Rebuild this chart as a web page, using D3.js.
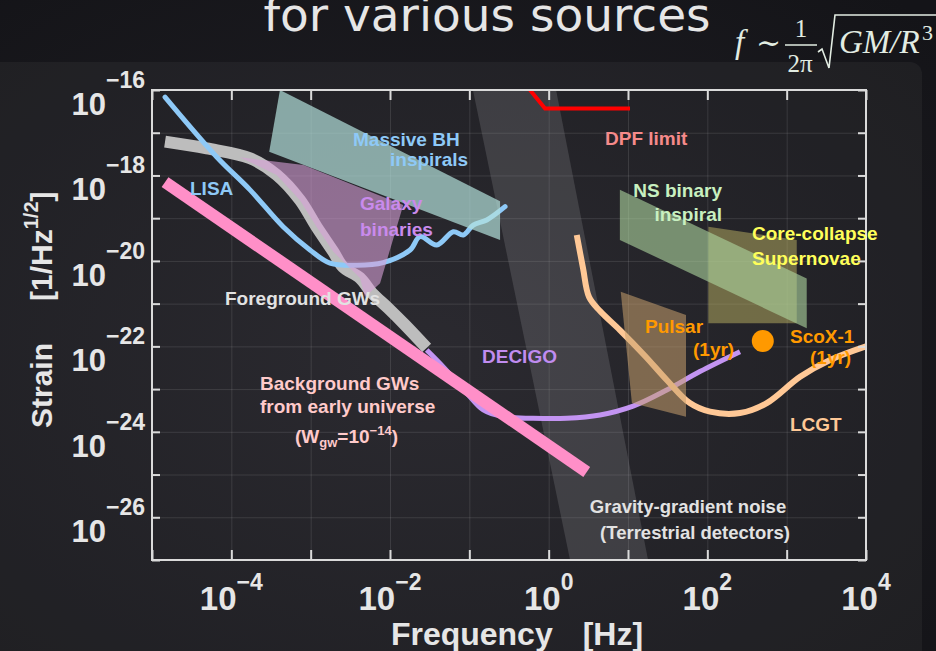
<!DOCTYPE html>
<html><head><meta charset="utf-8">
<script src="https://cdn.jsdelivr.net/npm/d3@7"></script>
<style>
html,body{margin:0;padding:0;background:#16161b;}
svg{display:block;font-family:"Liberation Sans",Arial,sans-serif;font-weight:bold;}
</style></head><body>
<svg id="chart" width="936" height="651"></svg>
<script>
// ---------- data (frequency [Hz], strain [1/Hz^1/2]) ----------
const xTickExponents = [-4, -2, 0, 2, 4];
const yTickExponents = [-16, -18, -20, -22, -24, -26];
const xDecades = [1e-5,1e-4,1e-3,1e-2,1e-1,1,10,100,1e3,1e4];
const yDecades = [1e-27,1e-26,1e-25,1e-24,1e-23,1e-22,1e-21,1e-20,1e-19,1e-18,1e-17,1e-16];

const lisa = [
  [1.46e-5,6.8e-17],[6.5e-5,2.75e-18],[1.72e-4,4.6e-19],[4.5e-4,6.3e-20],
  [9.8e-4,1.8e-20],[1.75e-3,8.9e-21],[3.8e-3,7.9e-21],[8.2e-3,9.1e-21],
  [1.79e-2,1.8e-20],[2.39e-2,3.7e-20],[3.88e-2,2.36e-20],[6.28e-2,4.83e-20],
  [8.4e-2,4.05e-20],[0.112,6.9e-20],[0.166,9.1e-20],[0.282,1.86e-19]
];
const foreground = [
  [1.46e-5,6.2e-18],[4.9e-5,4.3e-18],[1.72e-4,2.52e-18],[3.73e-4,1.03e-18],
  [7.3e-4,2.67e-19],[1.19e-3,6.2e-20],[1.93e-3,1.64e-20],[2.56e-3,7.2e-21],
  [4.19e-3,3.98e-21],[5.93e-3,1.77e-21],[9.44e-3,7.9e-22],[1.55e-2,3.16e-22],
  [2.9e-2,9.2e-23]
];
const background = [[1.46e-5,7.0e-19],[3.02,1.15e-25]];
const decigo = [
  [2.9e-2,8.2e-23],[4.66e-2,3.35e-23],[9.3e-2,8.0e-24],[0.15,3.24e-24],
  [0.266,2.26e-24],[0.636,2.07e-24],[1.69,2.07e-24],[4.44,2.48e-24],
  [11.6,4.0e-24],[30.8,9.5e-24],[80.5,2.57e-23],[258,7.5e-23]
];
const lcgt = [
  [2.26,4.05e-20],[2.71,6.8e-21],[3.23,1.43e-21],[4.44,6.7e-22],[7.9,2.4e-22],
  [16.4,5.96e-23],[30.8,1.63e-23],[60.2,4.7e-24],[108,2.96e-24],[258,2.75e-24],
  [561,4.7e-24],[1476,1.95e-23],[3524,4.8e-23],[1e4,1e-22]
];
const dpfLimit = [[0.582,1e-16],[0.9,3.7e-17],[10.6,3.7e-17]];
const gravityGradient = [[0.111,1e-16],[1.24,1e-16],[17.9,1e-27],[1.86,1e-27]];
const massiveBH = [[4.1e-4,1e-16],[0.244,2.5e-19],[0.244,3.1e-20],[3.0e-4,3.6e-18]];
const galaxyBinaries = [
  [1.28e-4,2.66e-18],[8.1e-4,1.76e-18],[1.47e-2,2.04e-19],[7.5e-3,3.0e-21],
  [4.84e-3,1.43e-21],[4.19e-3,3.98e-21],[1.93e-3,1.64e-20],[1.19e-3,6.2e-20],
  [7.3e-4,2.67e-19],[3.73e-4,1.03e-18]
];
const supernovae = [[103,6.3e-20],[1340,3.1e-20],[1340,3.47e-22],[103,3.47e-22]];
const nsBinary = [[7.9,4.6e-19],[1790,3.9e-21],[1790,2.65e-22],[7.9,3.1e-20]];
const pulsar = [[8.1,1.9e-21],[53.8,5.4e-22],[53.8,2.25e-24],[11.2,4.7e-24]];
const scoX1 = [[500,1.34e-22]];

// ---------- layout ----------
const W = 936, H = 651;
const x = d3.scaleLog().domain([1e-5,1e4]).range([152,866]);
const y = d3.scaleLog().domain([1e-27,1e-16]).range([560,90]);
const svg = d3.select("#chart");

const defs = svg.append("defs");
const rg = defs.append("radialGradient").attr("id","bgGrad").attr("cx","45%").attr("cy","55%").attr("r","75%");
rg.append("stop").attr("offset","0%").attr("stop-color","#222127");
rg.append("stop").attr("offset","100%").attr("stop-color","#141418");
defs.append("clipPath").attr("id","plotClip").append("rect")
  .attr("x",152).attr("y",90).attr("width",714).attr("height",470);

svg.append("rect").attr("width",W).attr("height",H).attr("fill","url(#bgGrad)");
svg.append("rect").attr("x",-20).attr("y",62).attr("width",942).attr("height",640).attr("rx",12)
  .attr("fill","rgba(255,255,255,0.045)");

// title (cropped at top, as in the slide)
svg.append("text").attr("x",487).attr("y",31).attr("text-anchor","middle")
  .style("font-family","'DejaVu Sans',sans-serif").style("font-weight","normal")
  .attr("font-size",47).attr("fill","#e6e6e6").text("for various sources");

// formula
const fm = svg.append("g").attr("fill","#e2ece2")
  .style("font-family","'Liberation Serif','DejaVu Serif',serif").style("font-weight","normal");
fm.append("text").attr("x",735).attr("y",53).attr("font-size",33).style("font-style","italic").text("f");
fm.append("text").attr("x",756).attr("y",53).attr("font-size",30).text("∼");
fm.append("text").attr("x",801).attr("y",37).attr("font-size",25).attr("text-anchor","middle").text("1");
fm.append("line").attr("x1",785).attr("x2",817).attr("y1",45).attr("y2",45).attr("stroke","#e2ece2").attr("stroke-width",1.5);
fm.append("text").attr("x",800).attr("y",72).attr("font-size",25).attr("text-anchor","middle").text("2π");
fm.append("path").attr("d","M818,52 L822,49 L829,68 L835,15 L940,15").attr("fill","none").attr("stroke","#e2ece2").attr("stroke-width",1.6);
fm.append("text").attr("x",839).attr("y",53).attr("font-size",33).style("font-style","italic").text("GM/R");
fm.append("text").attr("x",922).attr("y",40).attr("font-size",22).text("3");

// grid
const grid = svg.append("g");
grid.append("g").attr("transform","translate(0,560)")
  .call(d3.axisBottom(x).tickValues(xDecades).tickSize(-470).tickFormat(""))
  .call(g=>g.select(".domain").remove())
  .call(g=>g.selectAll("line").attr("stroke","rgba(255,255,255,0.11)").attr("stroke-width",1));
grid.append("g").attr("transform","translate(152,0)")
  .call(d3.axisLeft(y).tickValues(yDecades).tickSize(-714).tickFormat(""))
  .call(g=>g.select(".domain").remove())
  .call(g=>g.selectAll("line").attr("stroke","rgba(255,255,255,0.11)").attr("stroke-width",1));

const plot = svg.append("g").attr("clip-path","url(#plotClip)");
const lineGen = d3.line().x(d=>x(d[0])).y(d=>y(d[1])).curve(d3.curveCatmullRom.alpha(0.5));
const straight = d3.line().x(d=>x(d[0])).y(d=>y(d[1]));
const poly = d3.line().x(d=>x(d[0])).y(d=>y(d[1])).curve(d3.curveLinearClosed);

plot.append("path").attr("d",poly(gravityGradient)).attr("fill","rgba(150,150,156,0.24)");
plot.append("path").attr("d",lineGen(foreground)).attr("fill","none").attr("stroke","#bdbdbd").attr("stroke-width",12).attr("stroke-linejoin","round");
plot.append("path").attr("d",lineGen(lisa)).attr("fill","none").attr("stroke","#8ec9f7").attr("stroke-width",5).attr("stroke-linecap","round");
plot.append("path").attr("d",lineGen(decigo)).attr("fill","none").attr("stroke","#c394f2").attr("stroke-width",5);
plot.append("path").attr("d",straight(background)).attr("fill","none").attr("stroke","#ff8fc8").attr("stroke-width",12);
plot.append("path").attr("d",lineGen(lcgt)).attr("fill","none").attr("stroke","#ffc896").attr("stroke-width",6);

plot.append("path").attr("d",poly(massiveBH)).attr("fill","rgba(180,225,220,0.7)");
plot.append("path").attr("d",poly(galaxyBinaries)).attr("fill","rgba(215,160,215,0.6)");
plot.append("path").attr("d",poly(supernovae)).attr("fill","rgba(190,180,100,0.5)");
plot.append("path").attr("d",poly(nsBinary)).attr("fill","rgba(175,215,160,0.6)");
plot.append("path").attr("d",poly(pulsar)).attr("fill","rgba(200,160,110,0.55)");
plot.append("path").attr("d",straight(dpfLimit)).attr("fill","none").attr("stroke","#ff0000").attr("stroke-width",4);
plot.selectAll("circle.sco").data(scoX1).join("circle").attr("class","sco")
  .attr("cx",d=>x(d[0])).attr("cy",d=>y(d[1])).attr("r",11).attr("fill","#ff9900");

// frame & ticks
const axC = "#dadada";
svg.append("rect").attr("x",152).attr("y",90).attr("width",714).attr("height",470)
  .attr("fill","none").attr("stroke",axC).attr("stroke-width",2);
function styleAxis(g){ g.select(".domain").remove(); g.selectAll("line").attr("stroke",axC).attr("stroke-width",2); }
svg.append("g").attr("transform","translate(0,560)").call(d3.axisBottom(x).tickValues(xDecades).tickSize(-10).tickFormat("")).call(styleAxis);
svg.append("g").attr("transform","translate(0,90)").call(d3.axisTop(x).tickValues(xDecades).tickSize(-10).tickFormat("")).call(styleAxis);
svg.append("g").attr("transform","translate(152,0)").call(d3.axisLeft(y).tickValues(yDecades).tickSize(-8).tickFormat("")).call(styleAxis);
svg.append("g").attr("transform","translate(866,0)").call(d3.axisRight(y).tickValues(yDecades).tickSize(-8).tickFormat("")).call(styleAxis);

// tick labels
const tl = "#e6e6e6";
xTickExponents.forEach(e=>{
  const t = svg.append("text").attr("x",x(Math.pow(10,e))).attr("y",610).attr("text-anchor","middle").attr("fill",tl);
  t.append("tspan").attr("font-size",33).text("10");
  t.append("tspan").attr("font-size",23).attr("dy",-20).text(e<0?"−"+(-e):String(e));
});
yTickExponents.forEach(e=>{
  const t = svg.append("text").attr("x",145).attr("y",y(Math.pow(10,e))+25).attr("text-anchor","end").attr("fill",tl);
  t.append("tspan").attr("font-size",31).text("10");
  t.append("tspan").attr("font-size",23).attr("dy",-27).text("−"+(-e));
});

// axis titles
const xt = svg.append("text").attr("x",517).attr("y",645).attr("text-anchor","middle").attr("fill",tl).attr("font-size",32);
xt.append("tspan").text("Frequency");
xt.append("tspan").attr("dx",30).text("[Hz]");
const yt = svg.append("text").attr("transform","translate(52,428) rotate(-90)").attr("text-anchor","start").attr("fill",tl).attr("font-size",30);
yt.append("tspan").text("Strain");
yt.append("tspan").attr("dx",42).text("[1/Hz");
yt.append("tspan").attr("font-size",20).attr("dy",-14).text("1/2");
yt.append("tspan").attr("dy",14).text("]");

// annotations
function label(lines, color, size){
  lines.forEach(l=>{
    svg.append("text").attr("x",l[1]).attr("y",l[2]).attr("text-anchor",l[3]||"start")
      .attr("fill",color).attr("font-size",size||19).text(l[0]);
  });
}
label([["LISA",190,195]],"#8ec9f7");
label([["Massive BH",353,146],["inspirals",390,166]],"#8ec9f7");
label([["Galaxy",360,210],["binaries",360,236]],"#c98aec");
label([["Foreground GWs",225,305]],"#e2e2e2");
label([["Background GWs",260,390],["from early universe",260,413]],"#ffcaca");
const bgl = svg.append("text").attr("x",295).attr("y",443).attr("fill","#ffcaca").attr("font-size",19);
bgl.append("tspan").text("(W");
bgl.append("tspan").attr("font-size",13).attr("dy",4).text("gw");
bgl.append("tspan").attr("dy",-4).text("=10");
bgl.append("tspan").attr("font-size",13).attr("dy",-8).text("−14");
bgl.append("tspan").attr("dy",8).text(")");
label([["DECIGO",482,363]],"#c08cf0");
label([["DPF limit",605,145]],"#f58a8a");
label([["NS binary",722,197,"end"],["inspiral",722,221,"end"]],"#c8f0c0");
label([["Core-collapse",752,240],["Supernovae",752,265]],"#ffff5a");
label([["Pulsar",645,333],["(1yr)",693,356]],"#ff9900");
label([["ScoX-1",790,343],["(1yr)",810,364]],"#ff9900");
label([["LCGT",790,431]],"#ffc896");
label([["Gravity-gradient noise",688,513,"middle"],["(Terrestrial detectors)",695,539,"middle"]],"#e2e2e2",18.5);
</script>
</body></html>
